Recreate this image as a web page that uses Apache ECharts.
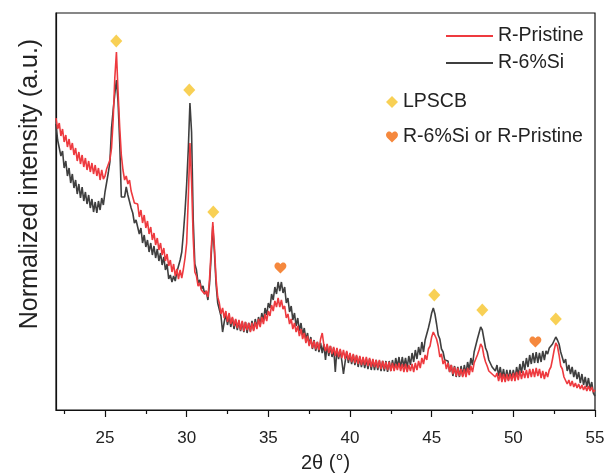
<!DOCTYPE html>
<html>
<head>
<meta charset="utf-8">
<script src="https://cdn.jsdelivr.net/npm/echarts@6/dist/echarts.min.js"></script>
<style>
html,body{margin:0;padding:0;background:#fff;}
#chart{width:606px;height:474px;}
</style>
</head>
<body>
<div id="chart"></div>
<script>
// 2θ grid of the scans (degrees)
const thetaStart = 22.0;
const thetaStep = 0.1;

// R-Pristine normalized intensity, 22.0° … 55.0° (one row per degree)
const pristine = [
  292, 281, 287, 274, 281, 268, 275, 263, 271, 260,
  267, 255, 262, 249, 258, 246, 255, 243, 252, 240,
  249, 238, 247, 236, 245, 234, 242, 230, 240, 231,
  234, 241, 239, 250, 262, 290, 332, 358, 318, 283,
  255, 240, 230, 234, 226, 230, 219, 219, 207, 208,
  206, 193, 200, 187, 195, 182, 189, 176, 183, 170,
  177, 165, 172, 160, 167, 155, 162, 149, 156, 144,
  150, 138, 146, 134, 141, 131, 140, 132, 141, 152,
  167, 212, 267, 228, 172, 138, 134, 124, 127, 120,
  122, 116, 119, 113, 131, 160, 188, 163, 131, 113,
  107, 96, 102, 92, 99, 88, 97, 86, 93, 84,
  91, 82, 90, 80, 89, 79, 88, 80, 87, 78,
  87, 79, 88, 81, 91, 83, 93, 86, 96, 89,
  99, 94, 105, 99, 109, 103, 112, 103, 110, 101,
  104, 92, 96, 86, 91, 81, 87, 78, 84, 74,
  81, 71, 77, 67, 74, 64, 71, 62, 69, 61,
  68, 60, 71, 77, 65, 59, 66, 57, 64, 56,
  63, 54, 62, 53, 61, 52, 60, 51, 59, 50,
  57, 48, 56, 47, 55, 46, 54, 45, 53, 45,
  53, 44, 52, 43, 51, 43, 50, 42, 50, 41,
  49, 41, 48, 40, 48, 39, 47, 39, 46, 40,
  47, 39, 46, 38, 46, 38, 45, 39, 46, 38,
  47, 40, 49, 42, 52, 46, 55, 50, 61, 64,
  73, 78, 80, 71, 64, 53, 56, 46, 50, 41,
  47, 38, 45, 36, 43, 34, 42, 34, 41, 33,
  41, 33, 42, 35, 44, 38, 47, 46, 55, 60,
  66, 63, 54, 48, 44, 39, 39, 36, 37, 33,
  37, 29, 37, 28, 36, 28, 36, 29, 36, 29,
  37, 29, 38, 30, 39, 31, 39, 32, 40, 32,
  41, 33, 41, 33, 42, 34, 41, 32, 39, 31,
  38, 33, 40, 43, 51, 60, 67, 64, 55, 44,
  41, 33, 33, 26, 30, 24, 29, 23, 27, 22,
  26, 21, 25, 20, 24, 19, 24, 19, 23, 18,
  20
];

// R-6%Si normalized intensity, 22.0° … 55.0°
const si6 = [
  286, 270, 272, 254, 259, 242, 249, 234, 242, 227,
  236, 222, 230, 216, 226, 212, 223, 209, 218, 206,
  215, 202, 211, 198, 208, 197, 209, 200, 212, 205,
  218, 220, 237, 248, 282, 300, 316, 330, 308, 268,
  213, 212, 213, 223, 215, 217, 202, 197, 187, 190,
  190, 176, 182, 167, 175, 163, 170, 158, 167, 155,
  164, 152, 161, 149, 157, 145, 153, 140, 146, 131,
  135, 128, 134, 129, 138, 138, 150, 158, 177, 199,
  226, 261, 307, 278, 191, 146, 140, 127, 130, 121,
  124, 116, 119, 110, 126, 154, 184, 158, 126, 107,
  107, 94, 78, 88, 96, 85, 94, 83, 92, 81,
  90, 80, 89, 79, 88, 78, 88, 77, 87, 79,
  89, 80, 91, 82, 93, 85, 97, 89, 102, 95,
  107, 102, 116, 110, 123, 116, 128, 119, 128, 117,
  123, 107, 112, 98, 104, 90, 97, 84, 92, 79,
  87, 75, 82, 70, 77, 65, 73, 61, 70, 59,
  68, 58, 67, 57, 66, 50, 65, 54, 64, 53,
  62, 38, 61, 51, 60, 49, 36, 48, 58, 47,
  56, 46, 55, 45, 54, 43, 53, 43, 52, 42,
  51, 41, 51, 40, 50, 40, 50, 40, 49, 39,
  49, 39, 49, 38, 49, 39, 50, 41, 52, 43,
  53, 42, 53, 43, 52, 42, 54, 45, 57, 48,
  60, 51, 63, 55, 68, 58, 70, 70, 82, 89,
  97, 102, 96, 86, 75, 71, 61, 58, 50, 49,
  49, 38, 45, 34, 44, 33, 43, 33, 44, 34,
  45, 36, 48, 40, 52, 45, 58, 58, 71, 77,
  83, 80, 71, 62, 58, 50, 49, 43, 45, 39,
  45, 34, 43, 32, 41, 30, 40, 30, 40, 31,
  40, 31, 43, 35, 46, 37, 49, 40, 52, 43,
  55, 46, 57, 47, 58, 47, 57, 48, 59, 50,
  59, 56, 62, 60, 66, 68, 73, 70, 66, 58,
  57, 47, 51, 39, 45, 36, 43, 33, 40, 31,
  38, 27, 36, 25, 33, 23, 32, 21, 28, 17,
  14
];

// Peak markers: LPSCB (diamonds) and R-6%Si or R-Pristine (hearts)
const lpscbTheta = [25.69, 30.16, 31.63, 45.16, 48.1, 52.6];
const lpscbLevel = [369, 320, 198, 115, 100, 91];
const otherTheta = [35.74, 51.35];
const otherLevel = [142, 68];

// Axis ticks
const majorTicks = [25, 30, 35, 40, 45, 50, 55];
const minorTicks = [22.5, 27.5, 32.5, 37.5, 42.5, 47.5, 52.5];

const FONT = '"Liberation Sans", Arial, Helvetica, sans-serif';
const HEART = 'path://M12,21.5 L3.2,12.6 C0.2,9.6 0.4,4.6 3.8,2.3 C6.8,0.4 10.2,1.6 12,4.4 C13.8,1.6 17.2,0.4 20.2,2.3 C23.6,4.6 23.8,9.6 20.8,12.6 Z';

const toXY = arr => arr.map((v, i) => [+(thetaStart + i * thetaStep).toFixed(2), v]);
const pairs = (xs, ys) => xs.map((x, i) => [x, ys[i]]);

const chart = echarts.init(document.getElementById('chart'), null, {renderer: 'canvas'});
chart.setOption({
  animation: false,
  backgroundColor: '#fff',
  textStyle: {fontFamily: FONT},
  grid: {left: 56, right: 11, top: 13, bottom: 64, outerBoundsMode: 'none', containLabel: false,
    show: true, borderColor: '#111', borderWidth: 1.2, backgroundColor: 'transparent'},
  xAxis: [{
    type: 'value', min: 22, max: 55,
    axisLine: {show: true, lineStyle: {color: '#111', width: 1.2}},
    axisTick: {show: true, customValues: majorTicks, length: 7, lineStyle: {color: '#111', width: 1.2}},
    axisLabel: {show: true, customValues: majorTicks, fontSize: 17, color: '#222', margin: 20, fontFamily: FONT},
    splitLine: {show: false},
    name: '2θ (°)', nameLocation: 'middle', nameGap: 43, nameMoveOverlap: false,
    nameTextStyle: {fontSize: 20, color: '#222', fontFamily: FONT}
  }, {
    type: 'value', min: 22, max: 55, position: 'bottom',
    axisLine: {show: false},
    axisTick: {show: true, customValues: minorTicks, length: 4, lineStyle: {color: '#111', width: 1.2}},
    axisLabel: {show: false},
    splitLine: {show: false}
  }],
  yAxis: {
    type: 'value', min: 0, max: 397,
    axisLine: {show: true, lineStyle: {color: '#111', width: 1.2}},
    axisTick: {show: false}, axisLabel: {show: false}, splitLine: {show: false}
  },
  graphic: [{
    type: 'text', x: 30, y: 184, rotation: Math.PI / 2,
    style: {text: 'Normalized intensity (a.u.)', font: '25px ' + FONT, fill: '#222', textAlign: 'center', textVerticalAlign: 'middle'}
  }],
  legend: [{
    data: ['R-Pristine', 'R-6%Si'],
    orient: 'vertical', left: 441, top: 21, itemGap: 7,
    itemWidth: 47, itemHeight: 2, icon: 'rect', selectedMode: false,
    textStyle: {fontSize: 19.5, lineHeight: 20, color: '#222', fontFamily: FONT}
  }, {
    data: ['LPSCB', 'R-6%Si or R-Pristine'],
    orient: 'vertical', left: 381, top: 87, itemGap: 15,
    itemWidth: 12, itemHeight: 12, selectedMode: false,
    textStyle: {fontSize: 19.5, lineHeight: 20, color: '#222', fontFamily: FONT}
  }],
  series: [{
    name: 'R-6%Si', type: 'line', data: toXY(si6), showSymbol: false, symbol: 'none',
    lineStyle: {color: '#3f3f3f', width: 1.6}, itemStyle: {color: '#3f3f3f'}, z: 2
  }, {
    name: 'R-Pristine', type: 'line', data: toXY(pristine), showSymbol: false, symbol: 'none',
    lineStyle: {color: '#ee3a3f', width: 1.6}, itemStyle: {color: '#ee3a3f'}, z: 3
  }, {
    name: 'LPSCB', type: 'scatter', data: pairs(lpscbTheta, lpscbLevel),
    symbol: 'diamond', symbolSize: [12, 13], itemStyle: {color: '#f6c42a'}, z: 4
  }, {
    name: 'R-6%Si or R-Pristine', type: 'scatter', data: pairs(otherTheta, otherLevel),
    symbol: HEART, symbolSize: [12, 11], itemStyle: {color: '#f36a0c'}, z: 4
  }]
});
</script>
</body>
</html>
